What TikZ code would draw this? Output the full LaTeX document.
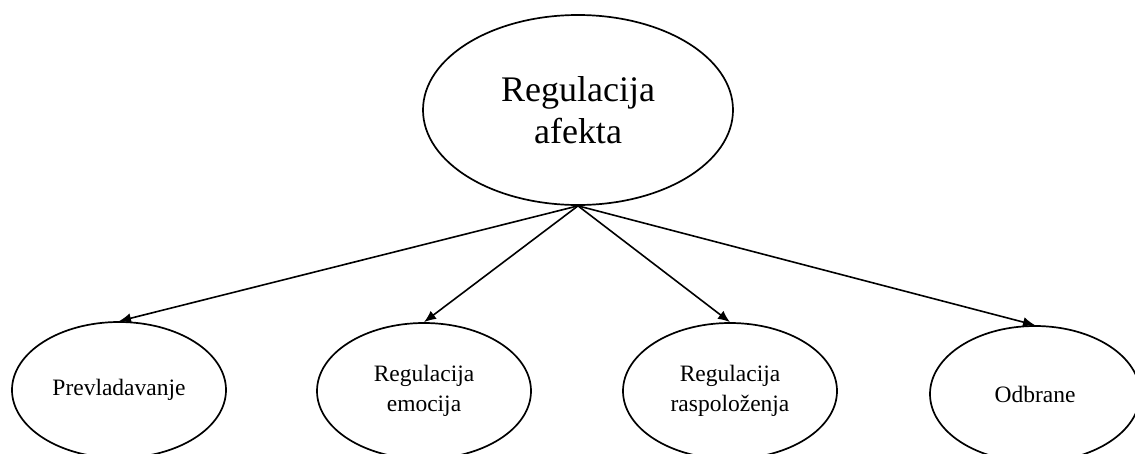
\documentclass[tikz,border=0pt]{standalone}
\usepackage{fontspec}
\setmainfont{Liberation Serif}
\usetikzlibrary{shapes.geometric,arrows.meta}
\tikzset{
  oval/.style={draw, ellipse, line width=1.7pt, inner sep=0pt, align=center},
  topoval/.style={oval, minimum width=310pt, minimum height=190pt, font=\fontsize{36}{42}\selectfont},
  suboval/.style={oval, minimum width=214pt, minimum height=136pt, font=\fontsize{23.5}{30}\selectfont},
  conn/.style={line width=1.6pt, -{Latex[length=12pt,width=10pt]}}
}
\begin{document}
\begin{tikzpicture}[x=1pt,y=-1pt]
\useasboundingbox (0,0) rectangle (1135,453);
\node[topoval] (top) at (578,110) {Regulacija\\afekta};
\node[suboval] (prev) at (119,390) {Prevladavanje};
\node[suboval] (emo) at (424,391) {Regulacija\\emocija};
\node[suboval] (ras) at (730,391) {Regulacija\\raspoloženja};
\node[suboval, minimum width=210pt] (odb) at (1035,394) {Odbrane};
\draw[conn] (top.south) -- (prev.north);
\draw[conn] (top.south) -- (emo.north);
\draw[conn] (top.south) -- (ras.north);
\draw[conn] (top.south) -- (odb.north);
\end{tikzpicture}
\end{document}
